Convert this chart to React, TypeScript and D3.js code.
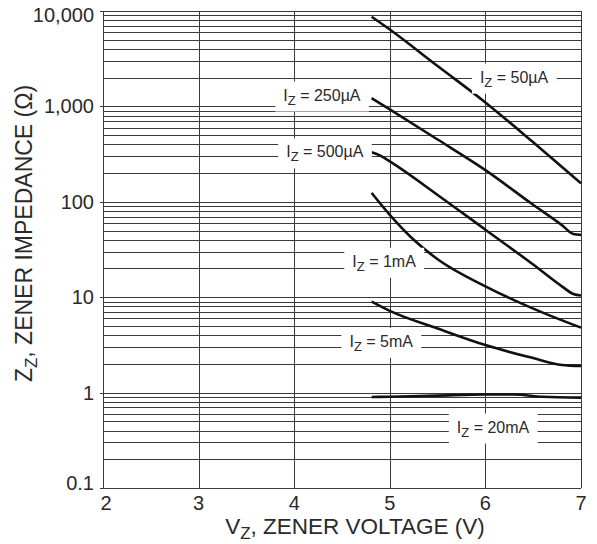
import React, { useEffect, useRef } from "react";
import * as d3 from "d3";

const voltageTicks = [2, 3, 4, 5, 6, 7];
const impedanceLabelValues = [0.1, 1, 10, 100, 1000, 10000];
const impedanceLabels = ["0.1", "1", "10", "100", "1,000", "10,000"];

const seriesNames = ["50µA", "250µA", "500µA", "1mA", "5mA", "20mA"];
const v50uA = [4.81, 5, 5.5, 6, 6.5, 7];
const z50uA = [8700, 6400, 2650, 1100, 420, 156];
const v250uA = [4.81, 5, 5.5, 6, 6.5, 6.8, 6.92, 7];
const z250uA = [1220, 930, 450, 215, 93, 57, 46, 45];
const v500uA = [4.81, 4.9, 5, 5.5, 6, 6.5, 6.8, 6.92, 7];
const z500uA = [330, 305, 265, 118, 51, 22, 13, 10.8, 10.4];
const v1mA = [4.81, 5, 5.25, 5.5, 6, 6.5, 7];
const z1mA = [124, 73, 40, 25, 13, 7.6, 4.8];
const v5mA = [4.81, 5, 5.5, 6, 6.5, 6.8, 7];
const z5mA = [9, 7.2, 4.7, 3.15, 2.3, 1.95, 1.9];
const v20mA = [4.81, 5, 5.5, 6, 6.3, 6.6, 7];
const z20mA = [0.9, 0.905, 0.93, 0.955, 0.955, 0.905, 0.885];

const labelV = [6.3, 4.29, 4.32, 4.94, 4.91, 6.08];
const labelZ = [2000, 1300, 330, 23.5, 3.4, 0.43];

const seriesV = [v50uA, v250uA, v500uA, v1mA, v5mA, v20mA];
const seriesZ = [z50uA, z250uA, z500uA, z1mA, z5mA, z20mA];

const W = 597;
const H = 544;
const M = { left: 103, right: 16, top: 11, bottom: 56 };
const FONT = "Arial, 'Liberation Sans', Helvetica, sans-serif";

export default function App() {
  const ref = useRef<SVGSVGElement | null>(null);

  useEffect(() => {
    const svg = d3.select(ref.current);
    svg.selectAll("*").remove();

    const x = d3.scaleLinear().domain([2, 7]).range([M.left, W - M.right]);
    const y = d3.scaleLog().domain([0.1, 10000]).range([H - M.bottom, M.top]);
    const [x0, x1] = x.range();
    const [yb, yt] = y.range();

    const g = svg.append("g");

    // horizontal grid (log minor + major)
    const hVals: number[] = [];
    for (let e = -1; e <= 3; e++) {
      for (let m = 1; m <= 9; m++) hVals.push(m * Math.pow(10, e));
    }
    hVals.push(10000);
    g.selectAll("line.h")
      .data(hVals)
      .enter()
      .append("line")
      .attr("x1", (d) => (Math.abs(Math.log10(d) - Math.round(Math.log10(d))) < 1e-9 ? x0 - 3 : x0))
      .attr("x2", x1)
      .attr("y1", (d) => Math.round(y(d)) + 0.5)
      .attr("y2", (d) => Math.round(y(d)) + 0.5)
      .attr("stroke", "#3a3a3a")
      .attr("stroke-width", 1);

    // vertical grid
    g.selectAll("line.v")
      .data(voltageTicks)
      .enter()
      .append("line")
      .attr("x1", (d) => Math.round(x(d)) + 0.5)
      .attr("x2", (d) => Math.round(x(d)) + 0.5)
      .attr("y1", yt)
      .attr("y2", yb)
      .attr("stroke", "#3a3a3a")
      .attr("stroke-width", 1);

    // curves
    const line = d3
      .line<[number, number]>()
      .x((d) => x(d[0]))
      .y((d) => y(d[1]))
      .curve(d3.curveMonotoneX);
    seriesV.forEach((vs, i) => {
      const pts: [number, number][] = vs.map((v, j) => [v, seriesZ[i][j]]);
      g.append("path")
        .attr("d", line(pts) as string)
        .attr("fill", "none")
        .attr("stroke", "#111")
        .attr("stroke-width", 2.6)
        .attr("stroke-linejoin", "round");
    });

    // labels with white boxes
    seriesNames.forEach((name, i) => {
      const cx = x(labelV[i]);
      const cy = y(labelZ[i]);
      const lg = g.append("g");
      const rect = lg.append("rect").attr("fill", "#fff");
      const t = lg
        .append("text")
        .attr("x", cx)
        .attr("y", cy + 5)
        .attr("text-anchor", "middle")
        .attr("font-family", FONT)
        .attr("font-size", 16)
        .attr("fill", "#2a2a2a");
      t.append("tspan").text("I");
      t.append("tspan").attr("font-size", 13).attr("dy", 4).text("Z");
      t.append("tspan").attr("dy", -4).text(" = " + name);
      const bb = (t.node() as SVGTextElement).getBBox();
      rect
        .attr("x", bb.x - 8)
        .attr("width", bb.width + 16)
        .attr("y", cy - 14)
        .attr("height", 30);
    });

    // y tick labels
    impedanceLabelValues.forEach((v, i) => {
      const ly = Math.min(Math.max(y(v) + 7, yt + 10.5), yb + 2);
      svg
        .append("text")
        .attr("x", x0 - 9)
        .attr("y", ly)
        .attr("text-anchor", "end")
        .attr("font-family", FONT)
        .attr("font-size", 20)
        .attr("fill", "#2a2a2a")
        .text(impedanceLabels[i]);
    });

    // x tick labels
    voltageTicks.forEach((v) => {
      svg
        .append("text")
        .attr("x", Math.max(x(v), x0 + 3))
        .attr("y", yb + 22)
        .attr("text-anchor", "middle")
        .attr("font-family", FONT)
        .attr("font-size", 20)
        .attr("fill", "#2a2a2a")
        .text(String(v));
    });

    // x title
    const xt = svg
      .append("text")
      .attr("x", (x0 + x1) / 2 + 13)
      .attr("y", H - 10)
      .attr("text-anchor", "middle")
      .attr("font-family", FONT)
      .attr("font-size", 22.5)
      .attr("fill", "#2a2a2a");
    xt.append("tspan").text("V");
    xt.append("tspan").attr("font-size", 17).attr("dy", 5).text("Z");
    xt.append("tspan").attr("dy", -5).text(", ZENER VOLTAGE (V)");

    // y title
    const yc = (yt + yb) / 2 - 16;
    const ytl = svg
      .append("text")
      .attr("transform", `translate(32,${yc}) rotate(-90)`)
      .attr("text-anchor", "middle")
      .attr("font-family", FONT)
      .attr("font-size", 23)
      .attr("fill", "#2a2a2a");
    ytl.append("tspan").text("Z");
    ytl.append("tspan").attr("font-size", 17).attr("dy", 5).text("Z");
    ytl.append("tspan").attr("dy", -5).text(", ZENER IMPEDANCE (Ω)");
  }, []);

  return (
    <svg
      ref={ref}
      width={W}
      height={H}
      style={{ position: "absolute", left: 0, top: 0, background: "#fff", display: "block" }}
    />
  );
}
